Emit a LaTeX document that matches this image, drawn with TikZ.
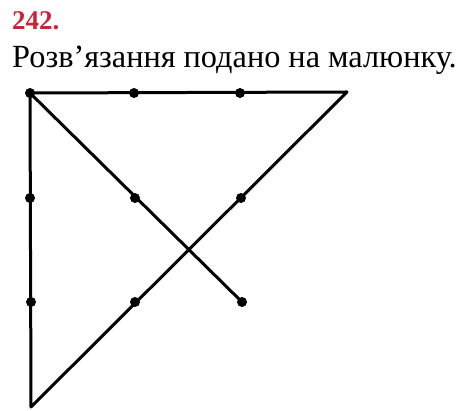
\documentclass[tikz,border=0pt]{standalone}
\usepackage{fontspec}
\setmainfont{Liberation Serif}
\definecolor{numred}{RGB}{200,35,55}
\begin{document}
\begin{tikzpicture}[x=1pt,y=-1pt,
  seg/.style={line width=3pt,line cap=round,line join=round},
  dot/.style={circle,fill=black,inner sep=0pt,minimum size=10pt}]
\useasboundingbox (0,0) rectangle (466,411);
\node[anchor=base west,inner sep=0pt,text=numred,font=\fontsize{27}{30}\selectfont\bfseries] (num) at (12,30) {242.};
\node[anchor=base west,inner sep=0pt,font=\fontsize{32.3}{36}\selectfont] (txt) at (12,68) {Розв’язання подано на малюнку.};
% grid points
\coordinate (c) at (347,92);
\coordinate (b) at (31,407);
\node[dot] (p11) at (30,93) {};
\node[dot] (p12) at (134,93) {};
\node[dot] (p13) at (240,93) {};
\node[dot] (p21) at (30,198) {};
\node[dot] (p22) at (135,198) {};
\node[dot] (p23) at (241,198) {};
\node[dot] (p31) at (31,302) {};
\node[dot] (p32) at (135,302) {};
\node[dot] (p33) at (242,302) {};
\draw[seg] (p11.center) -- (c) -- (b) -- (p11.center) -- (p33.center);
\end{tikzpicture}
\end{document}
